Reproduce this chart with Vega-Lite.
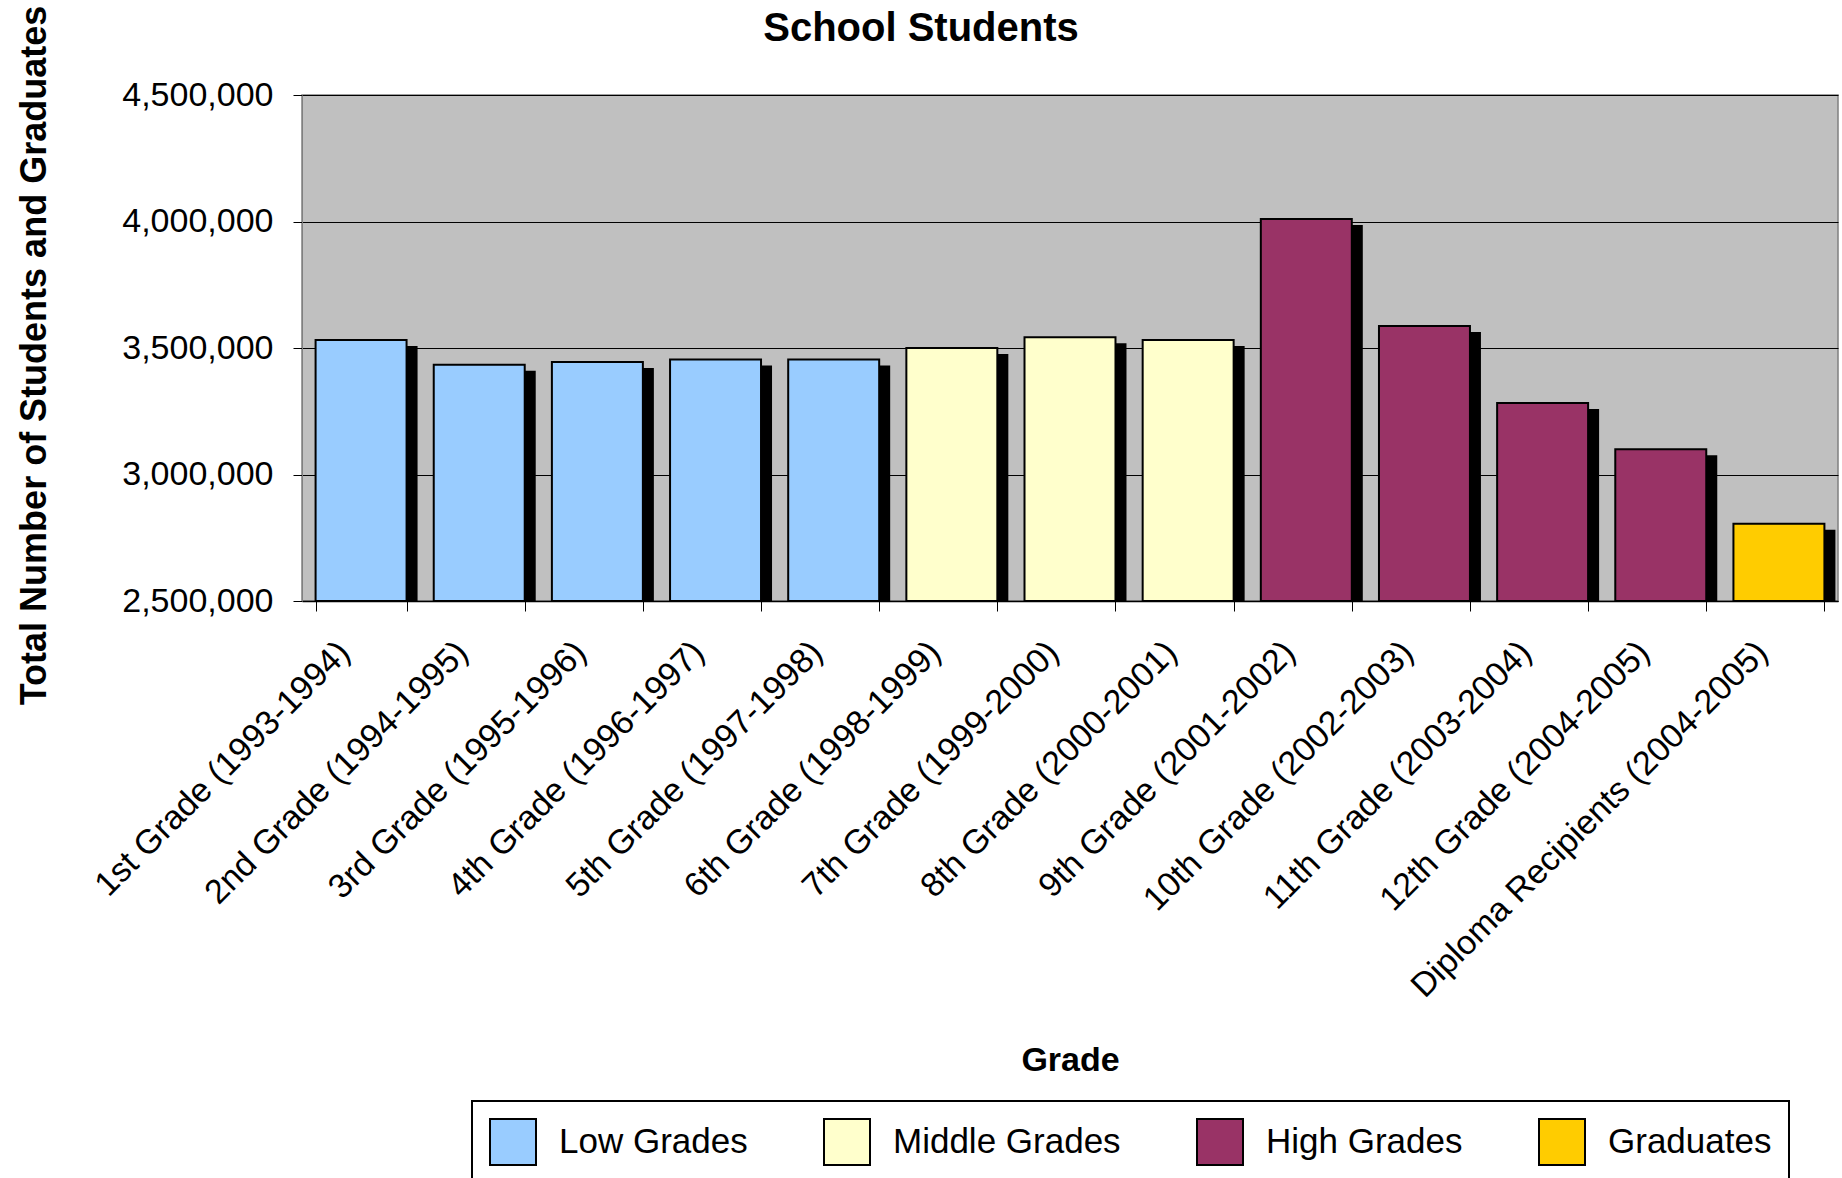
{
  "$schema": "https://vega.github.io/schema/vega-lite/v6.json",
  "autosize": {"type": "none"},
  "padding": {"left": 302, "top": 95, "right": 4, "bottom": 577},
  "width": 1536,
  "height": 506,
  "background": "white",
  "title": {
    "text": "School Students",
    "font": "Liberation Sans",
    "fontSize": 40,
    "fontWeight": "bold",
    "color": "black",
    "baseline": "alphabetic",
    "offset": -76,
    "dx": -149
  },
  "data": {
    "values": [
      {"grade": "1st Grade (1993-1994)", "group": "Low Grades", "count": 3532000},
      {"grade": "2nd Grade (1994-1995)", "group": "Low Grades", "count": 3434000},
      {"grade": "3rd Grade (1995-1996)", "group": "Low Grades", "count": 3445000},
      {"grade": "4th Grade (1996-1997)", "group": "Low Grades", "count": 3455000},
      {"grade": "5th Grade (1997-1998)", "group": "Low Grades", "count": 3455000},
      {"grade": "6th Grade (1998-1999)", "group": "Middle Grades", "count": 3500000},
      {"grade": "7th Grade (1999-2000)", "group": "Middle Grades", "count": 3542000},
      {"grade": "8th Grade (2000-2001)", "group": "Middle Grades", "count": 3532000},
      {"grade": "9th Grade (2001-2002)", "group": "High Grades", "count": 4010000},
      {"grade": "10th Grade (2002-2003)", "group": "High Grades", "count": 3587000},
      {"grade": "11th Grade (2003-2004)", "group": "High Grades", "count": 3283000},
      {"grade": "12th Grade (2004-2005)", "group": "High Grades", "count": 3100000},
      {"grade": "Diploma Recipients (2004-2005)", "group": "Graduates", "count": 2805000}
    ]
  },
  "encoding": {
    "x": {
      "field": "grade",
      "type": "nominal",
      "sort": null,
      "scale": {"paddingInner": 0.23, "paddingOuter": 0.115},
      "axis": {
        "title": "Grade",
        "titleFont": "Liberation Sans",
        "titleFontSize": 34,
        "titleFontWeight": "bold",
        "titleColor": "black",
        "titleBaseline": "alphabetic",
        "titleY": 469,
        "labelFont": "Liberation Sans",
        "labelFontSize": 34,
        "labelColor": "black",
        "labelAngle": -45,
        "labelAlign": "right",
        "labelBaseline": "top",
        "labelPadding": 24,
        "labelOffset": -29,
        "labelLimit": 1000,
        "labelOverlap": false,
        "tickBand": "extent",
        "tickSize": 10,
        "tickColor": "black",
        "tickWidth": 1,
        "domainColor": "black",
        "domainWidth": 1.5,
        "grid": false
      }
    },
    "y": {
      "field": "count",
      "type": "quantitative",
      "scale": {"domain": [2500000, 4500000], "zero": false, "nice": false},
      "axis": {
        "title": "Total Number of Students and Graduates",
        "titleFont": "Liberation Sans",
        "titleFontSize": 36,
        "titleFontWeight": "bold",
        "titleColor": "black",
        "titleBaseline": "alphabetic",
        "titleAlign": "center",
        "titleAngle": -90,
        "titleX": -257,
        "titleY": 260,
        "values": [2500000, 3000000, 3500000, 4000000, 4500000],
        "labelExpr": "format(datum.value, ',')",
        "labelFont": "Liberation Sans",
        "labelFontSize": 34,
        "labelColor": "black",
        "labelPadding": 20,
        "tickSize": 9,
        "tickColor": "black",
        "domainColor": "#808080",
        "grid": true,
        "gridColor": "black",
        "gridWidth": 1
      }
    },
    "y2": {"datum": 2500000}
  },
  "layer": [
    {
      "mark": {"type": "bar", "color": "black", "xOffset": 11, "yOffset": 6, "clip": true}
    },
    {
      "mark": {"type": "bar", "stroke": "black", "strokeWidth": 2, "clip": true},
      "encoding": {
        "color": {
          "field": "group",
          "type": "nominal",
          "scale": {
            "domain": ["Low Grades", "Middle Grades", "High Grades", "Graduates"],
            "range": ["#99CCFF", "#FFFFCC", "#993366", "#FFCC00"]
          },
          "legend": {
            "title": null,
            "orient": "none",
            "legendX": 170,
            "legendY": 1006,
            "direction": "horizontal",
            "symbolType": "square",
            "symbolSize": 2116,
            "symbolStrokeColor": "black",
            "symbolStrokeWidth": 2,
            "symbolOpacity": 1,
            "labelFont": "Liberation Sans",
            "labelFontSize": 35,
            "labelColor": "black",
            "labelOffset": 22,
            "labelLimit": 500,
            "columnPadding": 72,
            "padding": 17,
            "strokeColor": "black",
            "fillColor": "white"
          }
        }
      }
    }
  ],
  "config": {
    "view": {"fill": "#C0C0C0", "stroke": "#808080", "strokeWidth": 1.5},
    "legend": {"strokeWidth": 2}
  }
}
